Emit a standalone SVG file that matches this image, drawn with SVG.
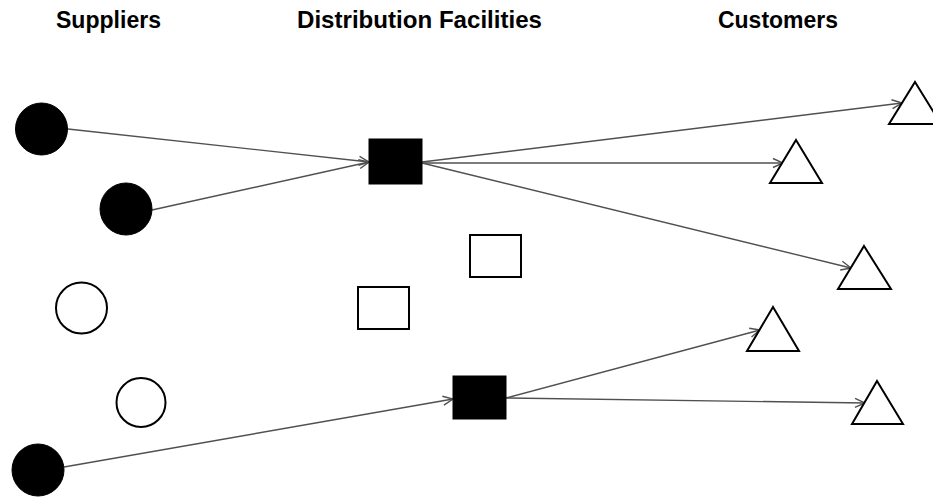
<svg xmlns="http://www.w3.org/2000/svg" width="933" height="499" viewBox="0 0 933 499">
<style>
.hdr{font-family:"Liberation Sans",Arial,sans-serif;font-weight:bold;font-size:24px;fill:#000}
.fill{fill:#000;stroke:#000;stroke-width:1}
.open{fill:#fff;stroke:#000;stroke-width:2}
.edge{stroke:#505050;stroke-width:1.4;fill:none;marker-end:url(#arr)}
</style>
<defs>
<marker id="arr" markerUnits="userSpaceOnUse" markerWidth="12" markerHeight="12" viewBox="0 0 12 12" refX="11" refY="6" orient="auto">
<path d="M1,1.5 L11,6 L1,10.5" fill="none" stroke="#505050" stroke-width="1.4"/>
</marker>
</defs>
<rect width="933" height="499" fill="#fff"/>
<g id="headers">
<text class="hdr" x="56" y="28" textLength="105" lengthAdjust="spacingAndGlyphs">Suppliers</text>
<text class="hdr" x="297" y="28" textLength="245" lengthAdjust="spacingAndGlyphs">Distribution Facilities</text>
<text class="hdr" x="718" y="28" textLength="120" lengthAdjust="spacingAndGlyphs">Customers</text>
</g>
<g id="connectors">
<line class="edge" x1="68" y1="129" x2="369" y2="162"/>
<line class="edge" x1="152" y1="210" x2="369" y2="162"/>
<line class="edge" x1="422" y1="162" x2="902" y2="103"/>
<line class="edge" x1="422" y1="163" x2="783" y2="163"/>
<line class="edge" x1="422" y1="163" x2="851" y2="268"/>
<line class="edge" x1="64" y1="467" x2="453" y2="399"/>
<line class="edge" x1="506" y1="398" x2="760" y2="330"/>
<line class="edge" x1="506" y1="398" x2="865" y2="403"/>
</g>
<g id="s1"><circle class="fill" cx="41.5" cy="129" r="26"/></g>
<g id="s2"><circle class="fill" cx="126" cy="209" r="26"/></g>
<g id="s3"><circle class="open" cx="81.5" cy="308" r="25.5"/></g>
<g id="s4"><circle class="open" cx="141" cy="402.5" r="24.5"/></g>
<g id="s5"><circle class="fill" cx="38" cy="470" r="26"/></g>
<g id="d1"><rect class="fill" x="369" y="139" width="53" height="45"/></g>
<g id="d2"><rect class="open" x="470" y="235" width="51" height="42"/></g>
<g id="d3"><rect class="open" x="358" y="287" width="51" height="42"/></g>
<g id="d4"><rect class="fill" x="453" y="376" width="53" height="43"/></g>
<g id="c1"><polygon class="open" points="915,82 941,124 889,124"/></g>
<g id="c2"><polygon class="open" points="796,140 822,183 770,183"/></g>
<g id="c3"><polygon class="open" points="864,246 891,289 838,289"/></g>
<g id="c4"><polygon class="open" points="773,307 799,351 747,351"/></g>
<g id="c5"><polygon class="open" points="877,381 903,424 852,424"/></g>
</svg>
